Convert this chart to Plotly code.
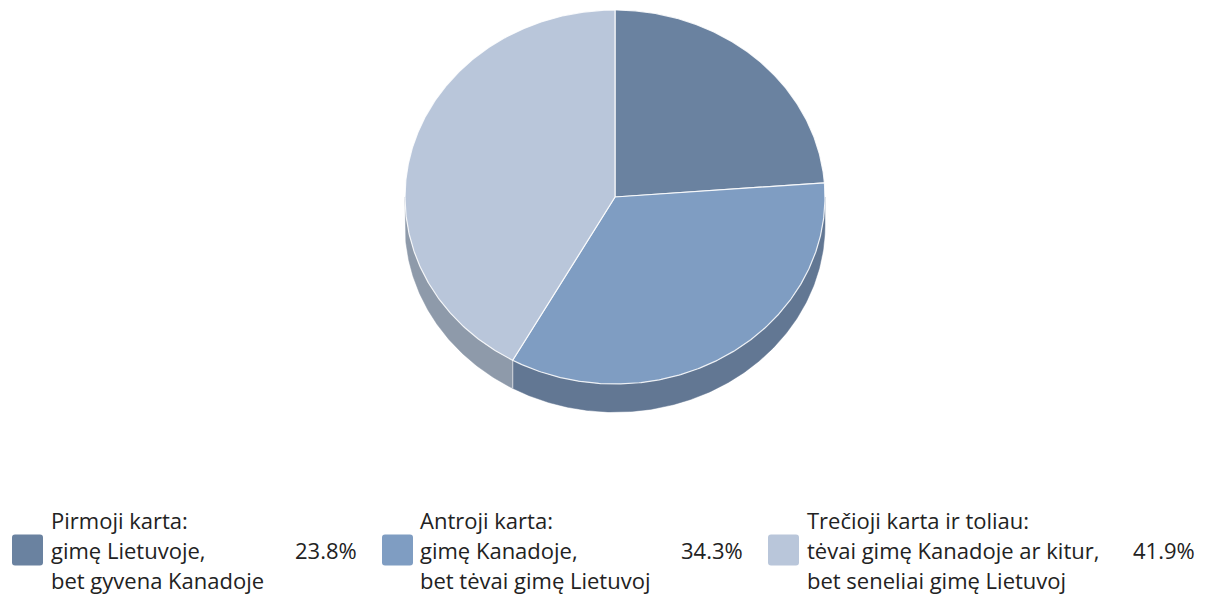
import numpy as np
import plotly.graph_objects as go

# ---- data ----
titles = ["Pirmoji karta:", "Antroji karta:", "Trečioji karta ir toliau:"]
line2 = ["gimę Lietuvoje,", "gimę Kanadoje,", "tėvai gimę Kanadoje ar kitur,"]
line3 = ["bet gyvena Kanadoje", "bet tėvai gimę Lietuvoj", "bet seneliai gimę Lietuvoj"]
values = [23.8, 34.3, 41.9]
value_labels = ["23.8%", "34.3%", "41.9%"]

# ---- styles ----
top_colors = ["#6a82a0", "#7f9dc2", "#b9c6da"]
side_colors = ["#586d89", "#627793", "#8e9aaa"]
text_color = "#222222"
FONT = "Open Sans"
FS = 22

# ---- geometry of the tilted pie (page pixel space) ----
CX, CY, RX, RY, DEPTH = 615, 197, 210, 187, 28
PAGE_W, PAGE_H, BODY_MARGIN = 1208, 603, 8
W, H = PAGE_W - 2 * BODY_MARGIN, PAGE_H - 2 * BODY_MARGIN


def arc(a, b, dy=0.0, n=None):
    if n is None:
        n = max(2, int(abs(b - a) * 2))
    t = np.radians(np.linspace(a, b, n))
    return CX + RX * np.sin(t), CY - RY * np.cos(t) + dy


fig = go.Figure()

total = sum(values)
angles = np.concatenate([[0], np.cumsum(values) / total * 360.0])

# side (depth) faces first
for i in range(len(values)):
    a, b = angles[i], angles[i + 1]
    lo, hi = max(a, 90.0), min(b, 270.0)
    if lo < hi:
        x1, y1 = arc(lo, hi)
        x2, y2 = arc(hi, lo, DEPTH)
        xs = np.concatenate([x1, x2, x1[:1]])
        ys = np.concatenate([y1, y2, y1[:1]])
        fig.add_trace(go.Scatter(x=xs, y=ys, mode="lines", fill="toself",
                                 fillcolor=side_colors[i],
                                 line=dict(color=side_colors[i], width=0.5),
                                 hoverinfo="skip"))
        for ang in (lo, hi):
            if ang not in (90.0, 270.0):
                xe, ye = arc(ang, ang, 0, 2)
                fig.add_trace(go.Scatter(x=[xe[0], xe[0]], y=[ye[0], ye[0] + DEPTH],
                                         mode="lines",
                                         line=dict(color="rgba(255,255,255,0.5)", width=1),
                                         hoverinfo="skip"))

# top faces
for i in range(len(values)):
    a, b = angles[i], angles[i + 1]
    xa, ya = arc(a, b)
    xs = np.concatenate([[CX], xa, [CX]])
    ys = np.concatenate([[CY], ya, [CY]])
    fig.add_trace(go.Scatter(x=xs, y=ys, mode="lines", fill="toself",
                             fillcolor=top_colors[i],
                             line=dict(color="rgba(255,255,255,0.85)", width=1.2),
                             name=titles[i], text=value_labels[i],
                             hoverinfo="name+text"))

# ---- legend (custom) ----
swatch_x = [12, 382, 768]
text_x = [50, 419, 806]
pct_right = [358, 744, 1196]
row_y = [520, 550, 580]
SW = 31
shapes = []
annotations = []
for i in range(len(values)):
    x0, y0 = swatch_x[i], row_y[1] - SW / 2
    x1, y1 = x0 + SW, y0 + SW
    r = 3
    path = (f"M{x0 + r},{y0} L{x1 - r},{y0} Q{x1},{y0} {x1},{y0 + r} "
            f"L{x1},{y1 - r} Q{x1},{y1} {x1 - r},{y1} L{x0 + r},{y1} "
            f"Q{x0},{y1} {x0},{y1 - r} L{x0},{y0 + r} Q{x0},{y0} {x0 + r},{y0} Z")
    shapes.append(dict(type="path", path=path, xref="x", yref="y",
                       fillcolor=top_colors[i], line=dict(width=0), layer="above"))
    for j, txt in enumerate([titles[i], line2[i], line3[i]]):
        annotations.append(dict(x=text_x[i], y=row_y[j], xref="x", yref="y",
                                text=txt, showarrow=False, xanchor="left",
                                yanchor="middle", borderpad=0,
                                font=dict(family=FONT, size=FS, color=text_color)))
    annotations.append(dict(x=pct_right[i], y=row_y[1], xref="x", yref="y",
                            text=value_labels[i], showarrow=False, xanchor="right",
                            yanchor="middle", borderpad=0,
                            font=dict(family=FONT, size=FS, color=text_color)))

fig.update_layout(
    width=W, height=H,
    margin=dict(l=0, r=0, t=0, b=0),
    paper_bgcolor="white", plot_bgcolor="white",
    showlegend=False,
    xaxis=dict(range=[BODY_MARGIN, BODY_MARGIN + W], visible=False, fixedrange=True),
    yaxis=dict(range=[BODY_MARGIN + H, BODY_MARGIN], visible=False, fixedrange=True),
    shapes=shapes, annotations=annotations,
    font=dict(family=FONT),
)

fig.write_html("out.html")
